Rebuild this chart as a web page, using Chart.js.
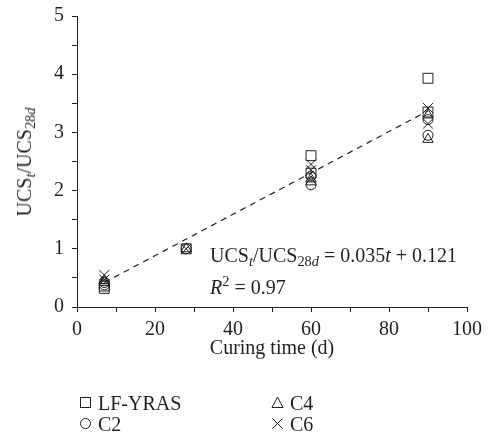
<!DOCTYPE html>
<html>
<head>
<meta charset="utf-8">
<script src="https://cdn.jsdelivr.net/npm/chart.js@4.4.1/dist/chart.umd.min.js"></script>
<style>
  body { margin: 0; background: #fff; }
  #wrap { position: relative; width: 490px; height: 441px; font-family: "Liberation Serif", "Times New Roman", serif; color: #231f20; }
  canvas { position: absolute; left: 0; top: 0; }
  .txt { position: absolute; white-space: nowrap; font-size: 20px; line-height: 1; }
  .txt sub { font-size: 0.72em; vertical-align: -0.3em; line-height: 0; }
  .ytitle { left: 24px; top: 162px; transform: translate(-50%, -50%) rotate(-90deg); }
  .leg { position: absolute; font-size: 20px; line-height: 1; white-space: nowrap; }
  .leg svg { position: absolute; left: -19px; top: 3px; }
</style>
</head>
<body>
<div id="wrap">
  <canvas id="c" width="490" height="441"></canvas>
  <div class="txt ytitle">UCS<sub><i>t</i></sub>/UCS<sub>28<i>d</i></sub></div>
  <div class="txt" style="left:210px; top:245px;">UCS<sub><i>t</i></sub>/UCS<sub>28<i>d</i></sub> = 0.035<i>t</i> + 0.121</div>
  <div class="txt" style="left:210px; top:277px;"><i>R</i><sup style="font-size:0.72em; line-height:0;">2</sup> = 0.97</div>
  <div id="legend"></div>
</div>
<script>
// curing times (days)
const times = [7, 28, 60, 90];

// UCS_t / UCS_28d, several specimens per time
const lfYras = [[0.32, 0.36], [1.0], [2.6, 2.3], [3.93, 3.35]];
const c2 = [[0.38, 0.42], [1.0], [2.1, 2.25], [2.95, 3.22]];
const c4 = [[0.42, 0.45], [1.0], [2.2, 2.15], [2.88, 3.3]];
const c6 = [[0.55, 0.47], [1.0], [2.35, 2.45], [3.42, 3.15]];

const seriesNames = ["LF-YRAS", "C2", "C4", "C6"];

// fitted line ends
const fitX = [7, 90];
const fitY = [0.42, 3.37];

const xTicks = [0, 20, 40, 60, 80, 100];
const yTicks = [0, 1, 2, 3, 4, 5];

const ink = "#231f20";
const serif = "'Liberation Serif', 'Times New Roman', serif";

function toPoints(vals) {
    return times.flatMap((t, i) => vals[i].map(v => ({ x: t, y: v })));
}

const styles = [
    { pointStyle: "rect", radius: 7 },
    { pointStyle: "circle", radius: 5 },
    { pointStyle: "triangle", radius: 6 },
    { pointStyle: "crossRot", radius: 7 }
];

const datasets = [lfYras, c2, c4, c6].map((vals, i) => ({
    type: "scatter",
    label: seriesNames[i],
    data: toPoints(vals),
    pointStyle: styles[i].pointStyle,
    pointRadius: styles[i].radius,
    pointBorderColor: ink,
    pointBackgroundColor: "rgba(0,0,0,0)",
    pointBorderWidth: 1,
    showLine: false
}));

datasets.push({
    type: "line",
    label: "fit",
    data: fitX.map((x, i) => ({ x: x, y: fitY[i] })),
    borderColor: ink,
    borderWidth: 1.2,
    borderDash: [6, 5],
    pointRadius: 0,
    fill: false
});

function noPad(scale) {
    scale.paddingTop = 0;
    scale.paddingBottom = 0;
    scale.paddingLeft = 0;
    scale.paddingRight = 0;
}

new Chart(document.getElementById("c"), {
    data: { datasets: datasets },
    options: {
        responsive: false,
        animation: false,
        layout: { padding: { left: 0, right: 23, top: 16, bottom: 74 } },
        plugins: { legend: { display: false }, tooltip: { enabled: false } },
        scales: {
            x: {
                type: "linear",
                min: 0, max: 100,
                afterFit: function (s) { s.height = 60; noPad(s); },
                ticks: {
                    stepSize: 10,
                    color: ink,
                    padding: 6,
                    maxRotation: 0,
                    font: { family: serif, size: 20 },
                    callback: v => xTicks.includes(v) ? v : ""
                },
                grid: { drawOnChartArea: false, drawTicks: true, tickLength: 5, color: ink },
                border: { display: true, color: ink, width: 1 },
                title: {
                    display: true,
                    text: "Curing time (d)",
                    color: ink,
                    font: { family: serif, size: 20 },
                    padding: { top: 0, bottom: 6 }
                }
            },
            y: {
                type: "linear",
                min: 0, max: 5,
                afterFit: function (s) { s.width = 77; noPad(s); },
                ticks: {
                    stepSize: 0.5,
                    color: ink,
                    padding: 8,
                    font: { family: serif, size: 20 },
                    callback: v => yTicks.includes(v) ? v : ""
                },
                grid: { drawOnChartArea: false, drawTicks: true, tickLength: 5, color: ink },
                border: { display: true, color: ink, width: 1 }
            }
        }
    }
});

// legend below the plot, two columns
const legendPos = [
    { left: 98, top: 393 },
    { left: 98, top: 414 },
    { left: 290, top: 393 },
    { left: 290, top: 414 }
];
const legendIcons = [
    '<rect x="1.5" y="1.5" width="10" height="10" fill="none" stroke="' + ink + '"/>',
    '<circle cx="6.5" cy="6.5" r="5" fill="none" stroke="' + ink + '"/>',
    '<polygon points="6.5,1 12,11.5 1,11.5" fill="none" stroke="' + ink + '"/>',
    '<path d="M1.5 1.5 L11.5 11.5 M11.5 1.5 L1.5 11.5" stroke="' + ink + '"/>'
];
const legendOrder = [0, 1, 2, 3];
const legend = document.getElementById("legend");
legendOrder.forEach((k, i) => {
    const d = document.createElement("div");
    d.className = "leg";
    d.style.left = legendPos[i].left + "px";
    d.style.top = legendPos[i].top + "px";
    d.innerHTML = '<svg width="13" height="13">' + legendIcons[k] + '</svg>' + seriesNames[k];
    legend.appendChild(d);
});
</script>
</body>
</html>
